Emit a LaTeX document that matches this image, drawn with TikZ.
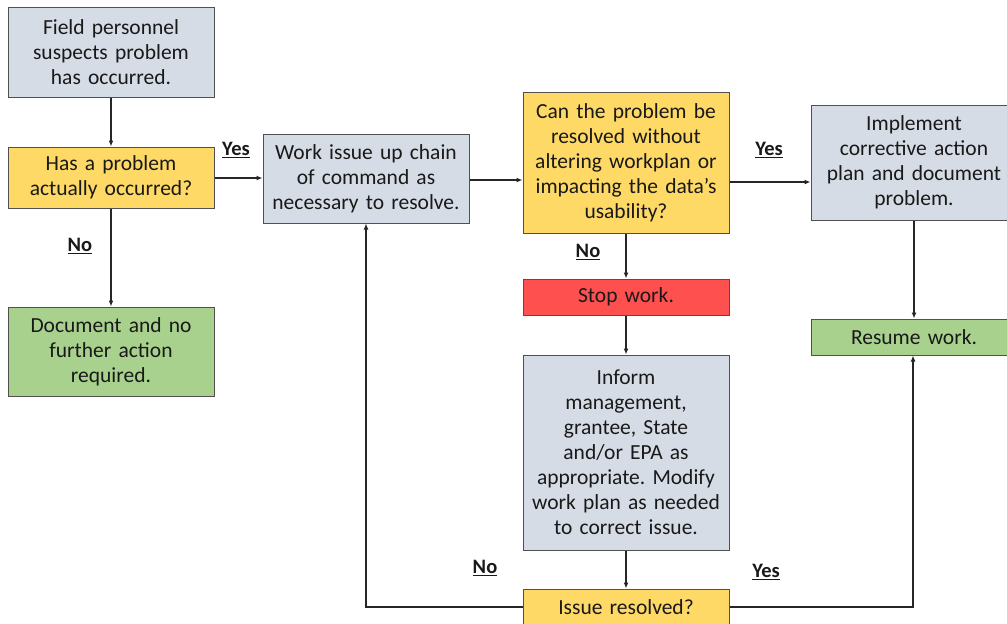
\documentclass[tikz,border=0pt]{standalone}
\usepackage{fontspec}
\setmainfont{Carlito}
\usetikzlibrary{arrows.meta,positioning,calc}
\frenchspacing
\definecolor{boxgray}{HTML}{D6DCE5}
\definecolor{boxyellow}{HTML}{FFD966}
\definecolor{boxgreen}{HTML}{A9D18E}
\definecolor{boxred}{HTML}{FF5050}
\definecolor{edgegray}{HTML}{505050}
\tikzset{
  box/.style={draw=edgegray, line width=1pt, minimum width=206pt, text width=204pt,
    align=center, inner sep=0pt, font=\fontsize{21.5}{25}\selectfont, text=black!90},
  graybox/.style={box, fill=boxgray},
  yellowbox/.style={box, fill=boxyellow},
  greenbox/.style={box, fill=boxgreen},
  redbox/.style={box, fill=boxred},
  arrow/.style={draw=black!85, line width=1.2pt, -{Latex[length=6pt,width=5pt]}},
  lbl/.style={font=\fontsize{20.5}{24}\selectfont\bfseries, text=black!90}
}
\newcommand{\ulab}[1]{\underline{#1}}
\begin{document}
\begin{tikzpicture}[x=1pt,y=-1pt]
\useasboundingbox (0,0) rectangle (1007,624);
\clip (0,0) rectangle (1007,624);
\fill[white] (0,0) rectangle (1007,624);

\node[graybox, minimum height=90pt] (field) at (111,52) {Field personnel\\suspects problem\\has occurred.};
\node[yellowbox, minimum height=61pt] (hasprob) at (111,177.5) {Has a problem\\actually occurred?};
\node[greenbox, minimum height=89pt] (doc) at (111,351.5) {Document and no\\further action\\required.};
\node[graybox, minimum height=89pt] (work) at (366,178.5) {Work issue up chain\\of command as\\necessary to resolve.};
\node[yellowbox, minimum height=141pt] (can) at (626,162.5) {Can the problem be\\resolved without\\altering workplan or\\impacting the data’s\\usability?};
\node[graybox, minimum height=115pt] (impl) at (914,162.5) {Implement\\corrective action\\plan and document\\problem.};
\node[greenbox, minimum height=36pt] (resume) at (914,337) {Resume work.};
\node[redbox, minimum height=36pt] (stop) at (626,297) {Stop work.};
\node[graybox, minimum height=195pt] (inform) at (626,452.5) {Inform\\management,\\grantee, State\\and/or EPA as\\appropriate. Modify\\work plan as needed\\to correct issue.};
\node[yellowbox, minimum height=36pt] (issue) at (626,607) {Issue resolved?};

\coordinate (ry) at (0,182);
\coordinate (hy) at (0,178);

\draw[arrow] (field.south) -- (hasprob.north);
\draw[arrow] (hasprob.south) -- (doc.north);
\draw[arrow] (hasprob.east |- hy) -- (work.west |- hy);
\draw[arrow] (work.east |- 0,180) -- (can.west |- 0,180);
\draw[arrow] (can.east |- ry) -- (impl.west |- ry);
\draw[arrow] (can.south) -- (stop.north);
\draw[arrow] (stop.south) -- (inform.north);
\draw[arrow] (inform.south) -- (issue.north);
\draw[arrow] (impl.south) -- (resume.north);
\draw[arrow] (issue.west) -| (work.south);
\draw[arrow] (issue.east) -| ([xshift=-1pt]resume.south);

\node[lbl] (l1) at (236,150) {\ulab{Yes}};
\node[lbl] (l2) at (80,246) {\ulab{No}};
\node[lbl] (l3) at (588,252) {\ulab{No}};
\node[lbl] (l4) at (769,150) {\ulab{Yes}};
\node[lbl] (l5) at (485,568) {\ulab{No}};
\node[lbl] (l6) at (766,572) {\ulab{Yes}};
\end{tikzpicture}
\end{document}
